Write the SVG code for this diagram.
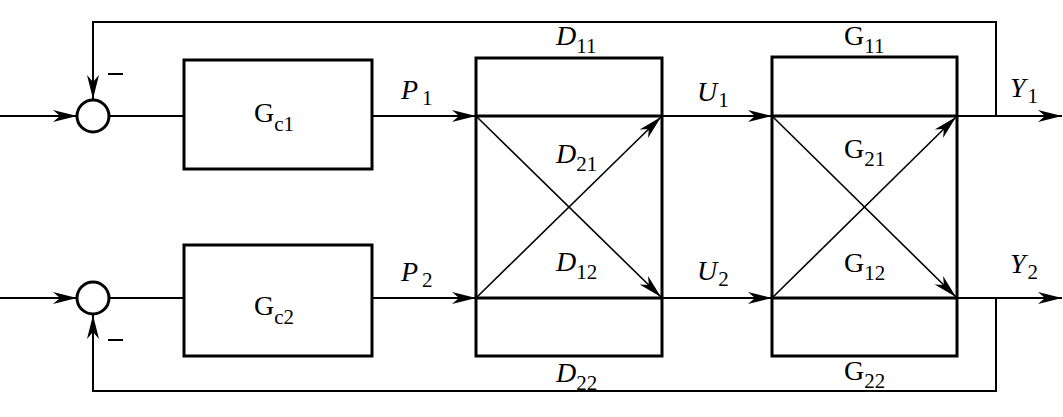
<svg xmlns="http://www.w3.org/2000/svg" width="1063" height="417" viewBox="0 0 1063 417">
<defs>
<marker id="ah" viewBox="-25 -7 26 14" markerWidth="26" markerHeight="14" refX="0" refY="0" orient="auto" markerUnits="userSpaceOnUse">
<path d="M0,0 L-24,-6 L-17,0 L-24,6 Z" fill="#000"/>
</marker>
</defs>
<style>
.box{fill:none;stroke:#000;stroke-width:3}
.ln{fill:none;stroke:#000;stroke-width:2}
.dg{fill:none;stroke:#000;stroke-width:1.6}
.t{font-family:"Liberation Serif",serif;font-size:28px;fill:#000}
.it{font-style:italic}
.sub{font-size:21px}
</style>
<rect width="1063" height="417" fill="#fff"/>
<g id="connectors">
<line class="ln" x1="0" y1="116" x2="77" y2="116" marker-end="url(#ah)"/>
<line class="ln" x1="109" y1="116" x2="184" y2="116"/>
<line class="ln" x1="372" y1="116" x2="476" y2="116" marker-end="url(#ah)"/>
<line class="ln" x1="662" y1="116" x2="772" y2="116" marker-end="url(#ah)"/>
<line class="ln" x1="957" y1="116" x2="1062" y2="116" marker-end="url(#ah)"/>
<polyline class="ln" points="996,116 996,22 93,22 93,99" marker-end="url(#ah)"/>
<line class="ln" x1="0" y1="298" x2="77" y2="298" marker-end="url(#ah)"/>
<line class="ln" x1="109" y1="298" x2="184" y2="298"/>
<line class="ln" x1="372" y1="298" x2="476" y2="298" marker-end="url(#ah)"/>
<line class="ln" x1="662" y1="298" x2="772" y2="298" marker-end="url(#ah)"/>
<line class="ln" x1="957" y1="298" x2="1062" y2="298" marker-end="url(#ah)"/>
<polyline class="ln" points="996,298 996,391 93,391 93,315" marker-end="url(#ah)"/>
<line class="ln" x1="108" y1="74" x2="123" y2="74"/>
<line class="ln" x1="108" y1="340" x2="123" y2="340"/>
<text class="t" x="401" y="99"><tspan class="it">P</tspan><tspan class="sub" dx="4" dy="6">1</tspan></text>
<text class="t" x="401" y="281"><tspan class="it">P</tspan><tspan class="sub" dx="4" dy="6">2</tspan></text>
<text class="t" x="697" y="101"><tspan class="it">U</tspan><tspan class="sub" dx="1" dy="6">1</tspan></text>
<text class="t" x="697" y="280"><tspan class="it">U</tspan><tspan class="sub" dx="1" dy="6">2</tspan></text>
<text class="t" x="1010" y="97"><tspan class="it">Y</tspan><tspan class="sub" dx="2" dy="6">1</tspan></text>
<text class="t" x="1010" y="273"><tspan class="it">Y</tspan><tspan class="sub" dx="2" dy="6">2</tspan></text>
</g>
<g id="sum1"><circle cx="93" cy="116" r="16" class="box"/></g>
<g id="sum2"><circle cx="93" cy="298" r="16" class="box"/></g>
<g id="Gc1">
<rect class="box" x="184" y="60" width="188" height="109"/>
<text class="t" x="254" y="122">G<tspan class="sub" dy="9">c1</tspan></text>
</g>
<g id="Gc2">
<rect class="box" x="184" y="245" width="188" height="111"/>
<text class="t" x="254" y="315">G<tspan class="sub" dy="9">c2</tspan></text>
</g>
<g id="D">
<rect class="box" x="476" y="58" width="186" height="298"/>
<line class="box" x1="476" y1="116" x2="662" y2="116"/>
<line class="box" x1="476" y1="298" x2="662" y2="298"/>
<line class="dg" x1="476" y1="116" x2="661" y2="297" marker-end="url(#ah)"/>
<line class="dg" x1="476" y1="298" x2="661" y2="117" marker-end="url(#ah)"/>
<text class="t" x="556" y="45"><tspan class="it">D</tspan><tspan class="sub" dy="8">11</tspan></text>
<text class="t" x="556" y="163"><tspan class="it">D</tspan><tspan class="sub" dy="8">21</tspan></text>
<text class="t" x="556" y="271"><tspan class="it">D</tspan><tspan class="sub" dy="8">12</tspan></text>
<text class="t" x="556" y="382"><tspan class="it">D</tspan><tspan class="sub" dy="8">22</tspan></text>
</g>
<g id="G">
<rect class="box" x="772" y="57" width="185" height="299"/>
<line class="box" x1="772" y1="116" x2="957" y2="116"/>
<line class="box" x1="772" y1="298" x2="957" y2="298"/>
<line class="dg" x1="772" y1="116" x2="956" y2="297" marker-end="url(#ah)"/>
<line class="dg" x1="772" y1="298" x2="956" y2="117" marker-end="url(#ah)"/>
<text class="t" x="844" y="45">G<tspan class="sub" dy="8">11</tspan></text>
<text class="t" x="844" y="158">G<tspan class="sub" dy="8">21</tspan></text>
<text class="t" x="844" y="272">G<tspan class="sub" dy="8">12</tspan></text>
<text class="t" x="844" y="380">G<tspan class="sub" dy="8">22</tspan></text>
</g>
</svg>
